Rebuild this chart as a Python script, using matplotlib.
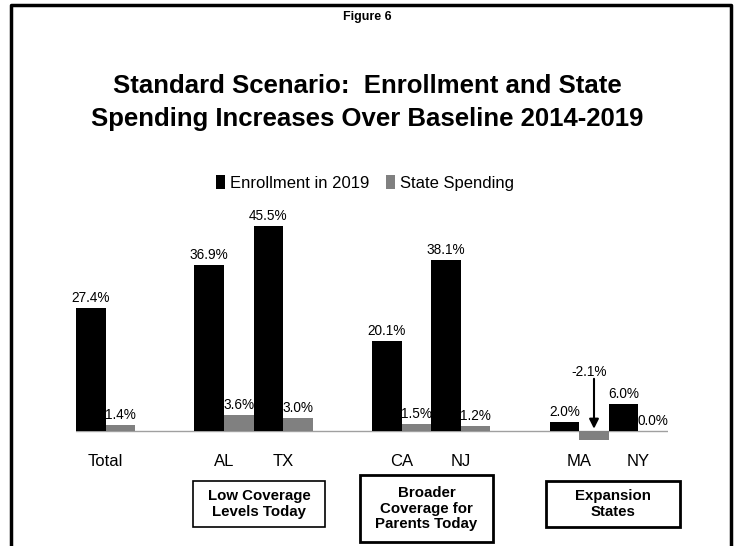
import matplotlib.pyplot as plt
from matplotlib.lines import Line2D
from matplotlib.patches import Rectangle

plt.rcParams['font.family'] = ['Liberation Sans', 'DejaVu Sans']

# data
categories = ['Total', 'AL', 'TX', 'CA', 'NJ', 'MA', 'NY']
slots = [0, 2, 3, 5, 6, 8, 9]
enrollment = [27.4, 36.9, 45.5, 20.1, 38.1, 2.0, 6.0]
spending = [1.4, 3.6, 3.0, 1.5, 1.2, -2.1, 0.0]
group_names = ['Low Coverage\nLevels Today', 'Broader\nCoverage for\nParents Today', 'Expansion\nStates']


def px(x, y):
    # pixel position -> figure fraction
    return x / 734, 1 - y / 546


def main():
    fig = plt.figure(figsize=(7.34, 5.46), dpi=100)
    ax = fig.add_axes([76 / 734, 92.5 / 546, 592 / 734, 247.5 / 546])

    black_x = [s - 0.25 for s in slots]
    gray_x = [s + 0.25 for s in slots]
    b1 = ax.bar(black_x, enrollment, width=0.5, color='black', label='Enrollment in 2019')
    b2 = ax.bar(gray_x, spending, width=0.5, color='#808080', label='State Spending')

    ax.axhline(0, color='#a0a0a0', lw=1, zorder=0)
    ax.set_xlim(-0.5, 9.5)
    ax.set_ylim(-5, 50)
    ax.axis('off')

    #value labels
    for x, v in zip(black_x, enrollment):
        ax.annotate(f'{v:.1f}%', (x, v), xytext=(0, 2), textcoords='offset points',
                    ha='center', va='bottom', fontsize=9.8)
    for x, v in zip(gray_x, spending):
        if v < 0:
            ax.annotate('', xy=(x, 0.5), xytext=(x, 11.6),
                        arrowprops=dict(arrowstyle='-|>', color='black', lw=1.5,
                                        shrinkA=0, shrinkB=0, mutation_scale=14))
            ax.text(x - 0.08, 11.6, f'{v:.1f}%', ha='center', va='bottom', fontsize=9.8)
        else:
            ax.annotate(f'{v:.1f}%', (x, v), xytext=(0, 2), textcoords='offset points',
                        ha='center', va='bottom', fontsize=9.8)

    #category labels
    for s, c in zip(slots, categories):
        ax.text(s, -6.8, c, ha='center', va='center', fontsize=12, clip_on=False)

    #titles
    fig.text(*px(367, 17), 'Figure 6', ha='center', va='center', fontsize=9, weight='bold')
    fig.text(*px(367, 86), 'Standard Scenario:  Enrollment and State',
             ha='center', va='center', fontsize=18.5, weight='bold')
    fig.text(*px(367, 119), 'Spending Increases Over Baseline 2014-2019',
             ha='center', va='center', fontsize=18.5, weight='bold')

    fig.legend(handles=[b1, b2], loc='center', bbox_to_anchor=px(365, 183), ncol=2,
               frameon=False, fontsize=12, handlelength=0.55, handleheight=0.9,
               handletextpad=0.3, columnspacing=1.0)

    #group boxes
    boxes = [(193, 481, 325, 527, 1.2), (360, 475, 493, 542, 2.0), (546, 481, 680, 527, 2.0)]
    for (x0, y0, x1, y1, lw), name in zip(boxes, group_names):
        fx0, fy1 = px(x0, y1)
        fx1, fy0 = px(x1, y0)
        fig.patches.append(Rectangle((fx0, fy1), fx1 - fx0, fy0 - fy1, transform=fig.transFigure,
                                     fill=False, edgecolor='black', lw=lw))
        fig.text(*px((x0 + x1) / 2, (y0 + y1) / 2), name, ha='center', va='center',
                 fontsize=10.8, weight='bold', linespacing=1.15)

    #outer border
    xs, ys = zip(px(11, 546), px(11, 5), px(731, 5), px(731, 546))
    fig.lines.append(Line2D(xs, ys, transform=fig.transFigure, color='black', lw=2.5))

    fig.savefig('out.png', dpi=100)


if __name__ == "__main__":
    main()
